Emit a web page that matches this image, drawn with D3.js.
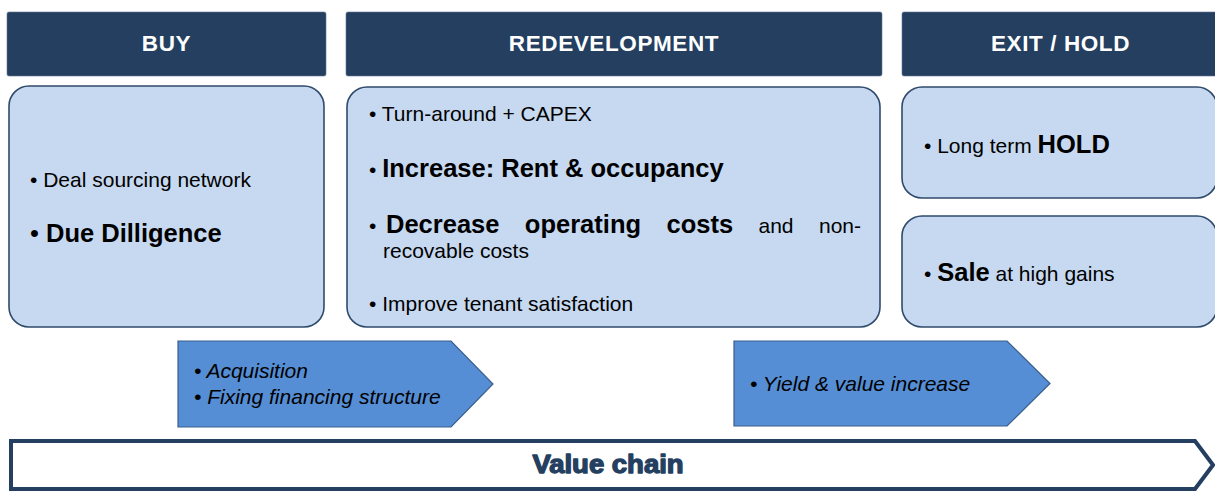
<!DOCTYPE html>
<html>
<head>
<meta charset="utf-8">
<script src="https://cdn.jsdelivr.net/npm/d3@7"></script>
<style>
  html, body { margin: 0; padding: 0; background: #fff; }
  svg { display: block; font-family: "Liberation Sans", Arial, sans-serif; }
</style>
</head>
<body>
<svg id="chart" width="1215" height="492"></svg>
<script>
// ---- data ----
const phases = ["BUY", "REDEVELOPMENT", "EXIT / HOLD"];
// each line: array of [text, emphasised]
const buyLines = [
  [["Deal sourcing network", false]],
  [["Due Dilligence", true]]
];
const redevLines = [
  [["Turn-around + CAPEX", false]],
  [["Increase: Rent & occupancy", true]],
  [["Decrease operating costs", true], ["and non-", false]],
  [["recovable costs", false]],
  [["Improve tenant satisfaction", false]]
];
const holdLines = [[["Long term ", false], ["HOLD", true]]];
const saleLines = [[["Sale", true], [" at high gains", false]]];
const arrowTexts = [
  ["Acquisition", "Fixing financing structure"],
  ["Yield & value increase"]
];
const chainLabel = "Value chain";

// ---- styles ----
const NAVY = "#253F60";
const LIGHT = "#C6D9F0";
const BOXSTROKE = "#2F4A6C";
const ARROW = "#558ED5";
const ARROWSTROKE = "#3A5E8C";
const NORMAL = 21, EMPH = 25.5;

const svg = d3.select("#chart");

// header boxes
const headerX = d3.scaleOrdinal().domain(phases).range([[7, 326], [346, 882], [902, 1217]]);
const hdr = svg.append("g").selectAll("g").data(phases).join("g");
hdr.append("rect")
  .attr("x", d => headerX(d)[0]).attr("y", 12)
  .attr("width", d => headerX(d)[1] - headerX(d)[0]).attr("height", 64)
  .attr("rx", 2).attr("fill", NAVY).attr("stroke", "#5E7591").attr("stroke-width", 0.6);
hdr.append("text")
  .attr("x", d => (headerX(d)[0] + Math.min(headerX(d)[1], 1215)) / 2 + (d === "EXIT / HOLD" ? 2 : 0))
  .attr("y", 51).attr("text-anchor", "middle")
  .attr("fill", "#fff").attr("font-weight", "bold").attr("font-size", 22.5)
  .attr("letter-spacing", 0.6)
  .text(d => d);

// content boxes
const boxes = [
  {x0: 9, x1: 324, y0: 86, y1: 327},
  {x0: 347, x1: 880, y0: 87, y1: 327},
  {x0: 902, x1: 1217, y0: 87, y1: 198},
  {x0: 902, x1: 1217, y0: 216, y1: 327}
];
svg.append("g").selectAll("rect").data(boxes).join("rect")
  .attr("x", d => d.x0).attr("y", d => d.y0)
  .attr("width", d => d.x1 - d.x0).attr("height", d => d.y1 - d.y0)
  .attr("rx", 20).attr("fill", LIGHT).attr("stroke", BOXSTROKE).attr("stroke-width", 1.6);

function drawLine(x, y, runs, opts = {}) {
  const t = svg.append("text").attr("x", x).attr("y", y).attr("fill", "#000")
    .attr("xml:space", "preserve").style("white-space", "pre");
  if (opts.bullet !== false) {
    t.append("tspan").attr("font-size", opts.bulletSize || NORMAL).text("\u2022 ");
  }
  runs.forEach(([txt, em]) => {
    t.append("tspan")
      .attr("font-size", em ? EMPH : NORMAL)
      .attr("font-weight", em ? "bold" : "normal")
      .text(txt);
  });
  return t;
}

// BUY
drawLine(30, 187, buyLines[0]);
drawLine(30, 242, buyLines[1], {bulletSize: EMPH});

// REDEVELOPMENT
drawLine(369, 121, redevLines[0]);
drawLine(369, 177, redevLines[1]);
// justified line
(function () {
  const y = 233, xStart = 369, xEnd = 861;
  const words = [];
  redevLines[2].forEach(([txt, em]) => txt.split(" ").forEach(w => words.push([w, em])));
  const g = svg.append("g");
  g.append("text").attr("x", xStart).attr("y", y).attr("font-size", NORMAL).text("\u2022");
  const nodes = words.map(([w, em]) => g.append("text").attr("y", y)
    .attr("font-size", em ? EMPH : NORMAL).attr("font-weight", em ? "bold" : "normal").text(w));
  const startX = 386;
  const widths = nodes.map(n => n.node().getComputedTextLength());
  const total = d3.sum(widths);
  const gap = (xEnd - startX - total) / (nodes.length - 1);
  let cx = startX;
  nodes.forEach((n, i) => { n.attr("x", cx); cx += widths[i] + gap; });
})();
drawLine(383, 258, redevLines[3], {bullet: false});
drawLine(369, 311, redevLines[4]);

// EXIT / HOLD
drawLine(924, 153, holdLines[0]);
drawLine(924, 281, saleLines[0]);

// arrows
const arrows = [
  {x0: 178, x1: 493, y0: 341, y1: 427, shoulder: 451, texts: arrowTexts[0], tx: 194, ty: [378, 404]},
  {x0: 734, x1: 1050, y0: 341, y1: 426, shoulder: 1007, texts: arrowTexts[1], tx: 750, ty: [391]}
];
const ag = svg.append("g").selectAll("g").data(arrows).join("g");
ag.append("path")
  .attr("d", d => d3.line()([[d.x0, d.y0], [d.shoulder, d.y0], [d.x1, (d.y0 + d.y1) / 2], [d.shoulder, d.y1], [d.x0, d.y1]]) + "Z")
  .attr("fill", ARROW).attr("stroke", ARROWSTROKE).attr("stroke-width", 1.2);
ag.each(function (d) {
  const g = d3.select(this);
  d.texts.forEach((t, i) => {
    g.append("text").attr("x", d.tx).attr("y", d.ty[i])
      .attr("font-size", 21).attr("font-style", "italic").attr("fill", "#000")
      .text("\u2022 " + t);
  });
});

// value chain arrow
const vc = {x0: 11, x1: 1213, y0: 441, y1: 489, shoulder: 1195};
svg.append("path")
  .attr("d", d3.line()([[vc.x0, vc.y0], [vc.shoulder, vc.y0], [vc.x1, (vc.y0 + vc.y1) / 2], [vc.shoulder, vc.y1], [vc.x0, vc.y1]]) + "Z")
  .attr("fill", "#fff").attr("stroke", NAVY).attr("stroke-width", 4).attr("stroke-linejoin", "miter");
svg.append("text")
  .attr("x", 0).attr("y", 0).attr("text-anchor", "middle")
  .attr("font-size", 25).attr("font-weight", "bold").attr("fill", NAVY)
  .attr("transform", "translate(608,473) scale(1.1,1)")
  .attr("stroke", NAVY).attr("stroke-width", 1.3).attr("stroke-linejoin", "round")
  .text(chainLabel);
</script>
</body>
</html>
